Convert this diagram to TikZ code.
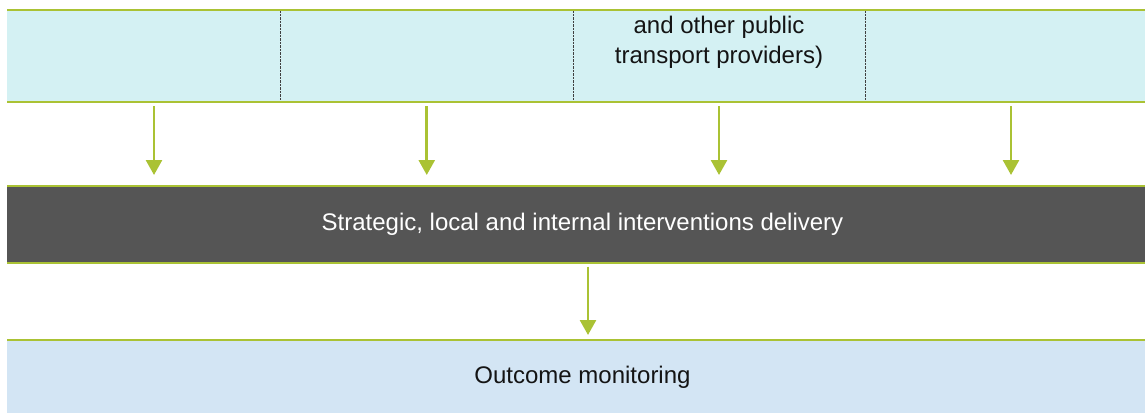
\documentclass[tikz,border=0pt]{standalone}
\usepackage{fontspec}
\setmainfont{Liberation Sans}
\usetikzlibrary{arrows.meta}
\definecolor{gr}{RGB}{170,194,52}
\definecolor{cyanfill}{RGB}{212,241,243}
\definecolor{bluefill}{RGB}{211,229,244}
\definecolor{darkfill}{RGB}{85,85,85}
\definecolor{txt}{RGB}{20,20,20}
\tikzset{
  gline/.style={draw=gr, line width=2.2pt},
  divline/.style={draw=black!75, line width=0.8pt, dash pattern=on 2.5pt off 1pt},
  cellbox/.style={rectangle, draw=none, inner sep=0pt, outer sep=0pt, minimum height=91.5pt},
  band/.style={rectangle, draw=none, inner sep=0pt, outer sep=0pt, minimum width=1151pt, font=\fontsize{24}{30}\selectfont},
  arr/.style={draw=gr, line width=2.6pt, -{Triangle[width=16pt,length=15pt]}},
}
\begin{document}
\begin{tikzpicture}[x=1pt,y=-1pt]
\useasboundingbox (0,0) rectangle (1145,412);
\clip (0,0) rectangle (1145,412);
% top band
\fill[cyanfill] (7,10.2) rectangle (1160,101.7);
\node[cellbox, minimum width=253pt] (c1) at (154,55.95) {};
\node[cellbox, minimum width=292.5pt] (c2) at (426.75,55.95) {};
\node[cellbox, minimum width=292pt] (c3) at (719,55.95) {};
\node[cellbox, minimum width=292pt] (c4) at (1011,55.95) {};
\node[align=center, text=txt, font=\fontsize{24}{30}\selectfont, inner sep=0pt, anchor=base] (t3) at (719,63.3) {and other public\\transport providers)};
\draw[divline] (c1.north east) -- (c1.south east);
\draw[divline] (c2.north east) -- (c2.south east);
\draw[divline] (c3.north east) -- (c3.south east);
\draw[gline] (7,10.2) -- (1145,10.2);
\draw[gline] (7,101.7) -- (1145,101.7);
% delivery band
\node[band, fill=darkfill, text=white, minimum height=76.7pt] (dl) at (582.5,224.35) {Strategic, local and internal interventions delivery};
\draw[gline] (dl.north west) -- (dl.north east);
\draw[gline] (dl.south west) -- (dl.south east);
% outcome band
\node[band, fill=bluefill, text=txt, minimum height=74pt] (oc) at (582.5,377) {Outcome monitoring};
\draw[gline] (oc.north west) -- (oc.north east);
% arrows
\foreach \c in {c1,c2,c3,c4}
  \draw[arr, shorten <=4.3pt, shorten >=11pt] (\c.south) -- (\c.south |- dl.north);
\draw[arr, shorten <=4pt, shorten >=5pt] ([xshift=5.5pt]dl.south) -- ([xshift=5.5pt]oc.north);
\end{tikzpicture}
\end{document}
